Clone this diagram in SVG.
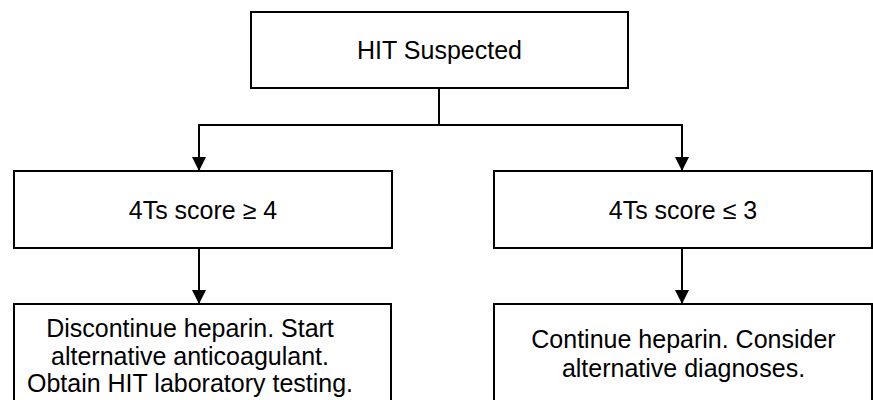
<svg xmlns="http://www.w3.org/2000/svg" width="873" height="400" viewBox="0 0 873 400">
<defs>
<style>
.box{fill:#fff;stroke:#000;stroke-width:2}
.t{font-family:"Liberation Sans",Arial,sans-serif;font-size:25px;fill:#000;text-anchor:middle}
.c{fill:none;stroke:#000;stroke-width:2}
</style>
<marker id="ah" markerWidth="14" markerHeight="14" refX="14" refY="7" orient="auto" markerUnits="userSpaceOnUse">
<path d="M0,0 L14,7 L0,14 Z" fill="#000"/>
</marker>
</defs>
<rect width="873" height="400" fill="#fff"/>
<g id="connectors">
<path class="c" d="M439,88 V125"/>
<path class="c" d="M199,125 H682"/>
<path class="c" d="M199,124 V171" marker-end="url(#ah)"/>
<path class="c" d="M682,124 V171" marker-end="url(#ah)"/>
<path class="c" d="M199,248 V304" marker-end="url(#ah)"/>
<path class="c" d="M682,248 V304" marker-end="url(#ah)"/>
</g>
<g id="hit-suspected">
<rect class="box" x="251" y="12" width="377" height="76"/>
<text class="t" x="439.5" y="58.5">HIT Suspected</text>
</g>
<g id="score-high">
<rect class="box" x="14" y="171" width="378" height="77"/>
<text class="t" x="203" y="218.5">4Ts score ≥ 4</text>
</g>
<g id="score-low">
<rect class="box" x="494" y="171" width="378" height="77"/>
<text class="t" x="683" y="218.5">4Ts score ≤ 3</text>
</g>
<g id="action-high">
<rect class="box" x="14" y="304" width="377" height="110"/>
<text class="t" x="190" y="337">Discontinue heparin. Start</text>
<text class="t" x="190" y="364.5">alternative anticoagulant.</text>
<text class="t" x="190" y="392">Obtain HIT laboratory testing.</text>
</g>
<g id="action-low">
<rect class="box" x="494" y="304" width="378" height="110"/>
<text class="t" x="683.5" y="348">Continue heparin. Consider</text>
<text class="t" x="683.5" y="377">alternative diagnoses.</text>
</g>
</svg>
